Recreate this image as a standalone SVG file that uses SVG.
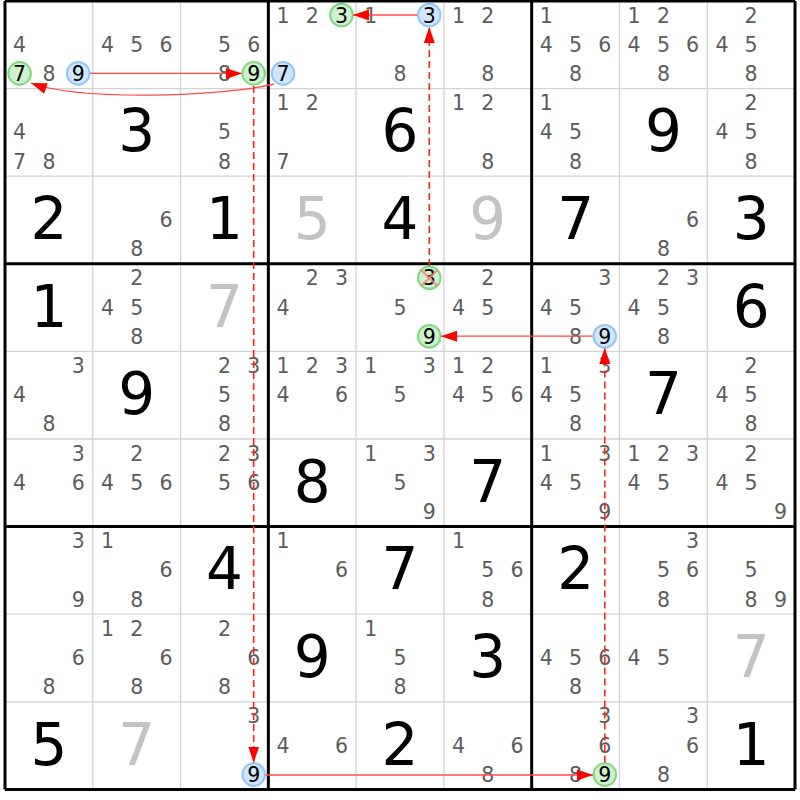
<svg xmlns="http://www.w3.org/2000/svg" width="800" height="800" viewBox="0 0 800 800">
<style>
text{font-family:"DejaVu Sans","Liberation Sans",sans-serif;text-anchor:middle}
.c{font-size:20.5px;fill:#5c5c5c}
.k{font-size:20.5px;fill:#000}
.b{font-size:58px;fill:#000}
.s{font-size:58px;fill:#c3c3c3}
.thin{stroke:#d3d3d3;stroke-width:1.3;fill:none}
.thick{stroke:#000;stroke-width:3;fill:none}
.g{fill:#cdf2cd;stroke:#80d880;stroke-width:2}
.u{fill:#d0e6ff;stroke:#94c6f5;stroke-width:2}
.sol{stroke:#ff4a4a;stroke-width:1.3;fill:none}
.dash{stroke:#ff2424;stroke-width:1.6;fill:none;stroke-dasharray:7 4}
.x{stroke:#ff7a7a;stroke-width:2;opacity:0.85}
</style>
<defs>
<marker id="ah" viewBox="0 0 16 12" refX="16" refY="6" markerWidth="16" markerHeight="12" markerUnits="userSpaceOnUse" orient="auto">
<path d="M0,0.5 L16,6 L0,11.5 z" fill="#ff0000"/>
</marker>
</defs>
<rect width="800" height="800" fill="#fff"/>
<g id="grid">
<path class="thin" d="M92.78 1V789.4M180.56 1V789.4M356.12 1V789.4M443.9 1V789.4M619.46 1V789.4M707.24 1V789.4M5 88.6H795M5 176.2H795M5 351.4H795M5 439H795M5 614.2H795M5 701.8H795"/>
<path class="thick" d="M5 1V789.4M268.34 1V789.4M531.68 1V789.4M795 1V789.4M5 1H795M5 263.8H795M5 526.6H795M5 789.4H795"/>
</g>
<g id="cells">
<g id="r0c0"><circle class="g" cx="19.6" cy="73.4" r="11.3"/><circle class="u" cx="78.2" cy="73.4" r="11.3"/><text class="c" x="19.6" y="51.8">4</text><text class="k" x="19.6" y="81">7</text><text class="c" x="48.9" y="81">8</text><text class="k" x="78.2" y="81">9</text></g>
<g id="r0c1"><text class="c" x="107.4" y="51.8">4</text><text class="c" x="136.7" y="51.8">5</text><text class="c" x="165.9" y="51.8">6</text></g>
<g id="r0c2"><circle class="g" cx="253.7" cy="73.4" r="11.3"/><text class="c" x="224.5" y="51.8">5</text><text class="c" x="253.7" y="51.8">6</text><text class="c" x="224.5" y="81">8</text><text class="k" x="253.7" y="81">9</text></g>
<g id="r0c3"><circle class="g" cx="341.5" cy="15" r="11.3"/><circle class="u" cx="283" cy="73.4" r="11.3"/><text class="c" x="283" y="22.6">1</text><text class="c" x="312.2" y="22.6">2</text><text class="k" x="341.5" y="22.6">3</text><text class="k" x="283" y="81">7</text></g>
<g id="r0c4"><circle class="u" cx="429.3" cy="15" r="11.3"/><text class="c" x="370.8" y="22.6">1</text><text class="k" x="429.3" y="22.6">3</text><text class="c" x="400" y="81">8</text></g>
<g id="r0c5"><text class="c" x="458.5" y="22.6">1</text><text class="c" x="487.8" y="22.6">2</text><text class="c" x="487.8" y="81">8</text></g>
<g id="r0c6"><text class="c" x="546.3" y="22.6">1</text><text class="c" x="546.3" y="51.8">4</text><text class="c" x="575.6" y="51.8">5</text><text class="c" x="604.8" y="51.8">6</text><text class="c" x="575.6" y="81">8</text></g>
<g id="r0c7"><text class="c" x="634.1" y="22.6">1</text><text class="c" x="663.4" y="22.6">2</text><text class="c" x="634.1" y="51.8">4</text><text class="c" x="663.4" y="51.8">5</text><text class="c" x="692.6" y="51.8">6</text><text class="c" x="663.4" y="81">8</text></g>
<g id="r0c8"><text class="c" x="751.1" y="22.6">2</text><text class="c" x="721.9" y="51.8">4</text><text class="c" x="751.1" y="51.8">5</text><text class="c" x="751.1" y="81">8</text></g>

<g id="r1c0"><text class="c" x="19.6" y="139.4">4</text><text class="c" x="19.6" y="168.6">7</text><text class="c" x="48.9" y="168.6">8</text></g>
<g id="r1c1"><text class="b" x="136.7" y="151.4">3</text></g>
<g id="r1c2"><text class="c" x="224.5" y="139.4">5</text><text class="c" x="224.5" y="168.6">8</text></g>
<g id="r1c3"><text class="c" x="283" y="110.2">1</text><text class="c" x="312.2" y="110.2">2</text><text class="c" x="283" y="168.6">7</text></g>
<g id="r1c4"><text class="b" x="400" y="151.4">6</text></g>
<g id="r1c5"><text class="c" x="458.5" y="110.2">1</text><text class="c" x="487.8" y="110.2">2</text><text class="c" x="487.8" y="168.6">8</text></g>
<g id="r1c6"><text class="c" x="546.3" y="110.2">1</text><text class="c" x="546.3" y="139.4">4</text><text class="c" x="575.6" y="139.4">5</text><text class="c" x="575.6" y="168.6">8</text></g>
<g id="r1c7"><text class="b" x="663.4" y="151.4">9</text></g>
<g id="r1c8"><text class="c" x="751.1" y="110.2">2</text><text class="c" x="721.9" y="139.4">4</text><text class="c" x="751.1" y="139.4">5</text><text class="c" x="751.1" y="168.6">8</text></g>

<g id="r2c0"><text class="b" x="48.9" y="239">2</text></g>
<g id="r2c1"><text class="c" x="165.9" y="227">6</text><text class="c" x="136.7" y="256.2">8</text></g>
<g id="r2c2"><text class="b" x="224.5" y="239">1</text></g>
<g id="r2c3"><text class="s" x="312.2" y="239">5</text></g>
<g id="r2c4"><text class="b" x="400" y="239">4</text></g>
<g id="r2c5"><text class="s" x="487.8" y="239">9</text></g>
<g id="r2c6"><text class="b" x="575.6" y="239">7</text></g>
<g id="r2c7"><text class="c" x="692.6" y="227">6</text><text class="c" x="663.4" y="256.2">8</text></g>
<g id="r2c8"><text class="b" x="751.1" y="239">3</text></g>

<g id="r3c0"><text class="b" x="48.9" y="326.6">1</text></g>
<g id="r3c1"><text class="c" x="136.7" y="285.4">2</text><text class="c" x="107.4" y="314.6">4</text><text class="c" x="136.7" y="314.6">5</text><text class="c" x="136.7" y="343.8">8</text></g>
<g id="r3c2"><text class="s" x="224.5" y="326.6">7</text></g>
<g id="r3c3"><text class="c" x="312.2" y="285.4">2</text><text class="c" x="341.5" y="285.4">3</text><text class="c" x="283" y="314.6">4</text></g>
<g id="r3c4"><circle class="g" cx="429.3" cy="277.8" r="11.3"/><circle class="g" cx="429.3" cy="336.2" r="11.3"/><text class="k" x="429.3" y="285.4">3</text><text class="c" x="400" y="314.6">5</text><text class="k" x="429.3" y="343.8">9</text><path class="x" d="M421 270L437.5 286M437.5 270L421 286"/></g>
<g id="r3c5"><text class="c" x="487.8" y="285.4">2</text><text class="c" x="458.5" y="314.6">4</text><text class="c" x="487.8" y="314.6">5</text></g>
<g id="r3c6"><circle class="u" cx="604.8" cy="336.2" r="11.3"/><text class="c" x="604.8" y="285.4">3</text><text class="c" x="546.3" y="314.6">4</text><text class="c" x="575.6" y="314.6">5</text><text class="c" x="575.6" y="343.8">8</text><text class="k" x="604.8" y="343.8">9</text></g>
<g id="r3c7"><text class="c" x="663.4" y="285.4">2</text><text class="c" x="692.6" y="285.4">3</text><text class="c" x="634.1" y="314.6">4</text><text class="c" x="663.4" y="314.6">5</text><text class="c" x="663.4" y="343.8">8</text></g>
<g id="r3c8"><text class="b" x="751.1" y="326.6">6</text></g>

<g id="r4c0"><text class="c" x="78.2" y="373">3</text><text class="c" x="19.6" y="402.2">4</text><text class="c" x="48.9" y="431.4">8</text></g>
<g id="r4c1"><text class="b" x="136.7" y="414.2">9</text></g>
<g id="r4c2"><text class="c" x="224.5" y="373">2</text><text class="c" x="253.7" y="373">3</text><text class="c" x="224.5" y="402.2">5</text><text class="c" x="224.5" y="431.4">8</text></g>
<g id="r4c3"><text class="c" x="283" y="373">1</text><text class="c" x="312.2" y="373">2</text><text class="c" x="341.5" y="373">3</text><text class="c" x="283" y="402.2">4</text><text class="c" x="341.5" y="402.2">6</text></g>
<g id="r4c4"><text class="c" x="370.8" y="373">1</text><text class="c" x="429.3" y="373">3</text><text class="c" x="400" y="402.2">5</text></g>
<g id="r4c5"><text class="c" x="458.5" y="373">1</text><text class="c" x="487.8" y="373">2</text><text class="c" x="458.5" y="402.2">4</text><text class="c" x="487.8" y="402.2">5</text><text class="c" x="517.1" y="402.2">6</text></g>
<g id="r4c6"><text class="c" x="546.3" y="373">1</text><text class="c" x="604.8" y="373">3</text><text class="c" x="546.3" y="402.2">4</text><text class="c" x="575.6" y="402.2">5</text><text class="c" x="575.6" y="431.4">8</text></g>
<g id="r4c7"><text class="b" x="663.4" y="414.2">7</text></g>
<g id="r4c8"><text class="c" x="751.1" y="373">2</text><text class="c" x="721.9" y="402.2">4</text><text class="c" x="751.1" y="402.2">5</text><text class="c" x="751.1" y="431.4">8</text></g>

<g id="r5c0"><text class="c" x="78.2" y="460.6">3</text><text class="c" x="19.6" y="489.8">4</text><text class="c" x="78.2" y="489.8">6</text></g>
<g id="r5c1"><text class="c" x="136.7" y="460.6">2</text><text class="c" x="107.4" y="489.8">4</text><text class="c" x="136.7" y="489.8">5</text><text class="c" x="165.9" y="489.8">6</text></g>
<g id="r5c2"><text class="c" x="224.5" y="460.6">2</text><text class="c" x="253.7" y="460.6">3</text><text class="c" x="224.5" y="489.8">5</text><text class="c" x="253.7" y="489.8">6</text></g>
<g id="r5c3"><text class="b" x="312.2" y="501.8">8</text></g>
<g id="r5c4"><text class="c" x="370.8" y="460.6">1</text><text class="c" x="429.3" y="460.6">3</text><text class="c" x="400" y="489.8">5</text><text class="c" x="429.3" y="519">9</text></g>
<g id="r5c5"><text class="b" x="487.8" y="501.8">7</text></g>
<g id="r5c6"><text class="c" x="546.3" y="460.6">1</text><text class="c" x="604.8" y="460.6">3</text><text class="c" x="546.3" y="489.8">4</text><text class="c" x="575.6" y="489.8">5</text><text class="c" x="604.8" y="519">9</text></g>
<g id="r5c7"><text class="c" x="634.1" y="460.6">1</text><text class="c" x="663.4" y="460.6">2</text><text class="c" x="692.6" y="460.6">3</text><text class="c" x="634.1" y="489.8">4</text><text class="c" x="663.4" y="489.8">5</text></g>
<g id="r5c8"><text class="c" x="751.1" y="460.6">2</text><text class="c" x="721.9" y="489.8">4</text><text class="c" x="751.1" y="489.8">5</text><text class="c" x="780.4" y="519">9</text></g>

<g id="r6c0"><text class="c" x="78.2" y="548.2">3</text><text class="c" x="78.2" y="606.6">9</text></g>
<g id="r6c1"><text class="c" x="107.4" y="548.2">1</text><text class="c" x="165.9" y="577.4">6</text><text class="c" x="136.7" y="606.6">8</text></g>
<g id="r6c2"><text class="b" x="224.5" y="589.4">4</text></g>
<g id="r6c3"><text class="c" x="283" y="548.2">1</text><text class="c" x="341.5" y="577.4">6</text></g>
<g id="r6c4"><text class="b" x="400" y="589.4">7</text></g>
<g id="r6c5"><text class="c" x="458.5" y="548.2">1</text><text class="c" x="487.8" y="577.4">5</text><text class="c" x="517.1" y="577.4">6</text><text class="c" x="487.8" y="606.6">8</text></g>
<g id="r6c6"><text class="b" x="575.6" y="589.4">2</text></g>
<g id="r6c7"><text class="c" x="692.6" y="548.2">3</text><text class="c" x="663.4" y="577.4">5</text><text class="c" x="692.6" y="577.4">6</text><text class="c" x="663.4" y="606.6">8</text></g>
<g id="r6c8"><text class="c" x="751.1" y="577.4">5</text><text class="c" x="751.1" y="606.6">8</text><text class="c" x="780.4" y="606.6">9</text></g>

<g id="r7c0"><text class="c" x="78.2" y="665">6</text><text class="c" x="48.9" y="694.2">8</text></g>
<g id="r7c1"><text class="c" x="107.4" y="635.8">1</text><text class="c" x="136.7" y="635.8">2</text><text class="c" x="165.9" y="665">6</text><text class="c" x="136.7" y="694.2">8</text></g>
<g id="r7c2"><text class="c" x="224.5" y="635.8">2</text><text class="c" x="253.7" y="665">6</text><text class="c" x="224.5" y="694.2">8</text></g>
<g id="r7c3"><text class="b" x="312.2" y="677">9</text></g>
<g id="r7c4"><text class="c" x="370.8" y="635.8">1</text><text class="c" x="400" y="665">5</text><text class="c" x="400" y="694.2">8</text></g>
<g id="r7c5"><text class="b" x="487.8" y="677">3</text></g>
<g id="r7c6"><text class="c" x="546.3" y="665">4</text><text class="c" x="575.6" y="665">5</text><text class="c" x="604.8" y="665">6</text><text class="c" x="575.6" y="694.2">8</text></g>
<g id="r7c7"><text class="c" x="634.1" y="665">4</text><text class="c" x="663.4" y="665">5</text></g>
<g id="r7c8"><text class="s" x="751.1" y="677">7</text></g>

<g id="r8c0"><text class="b" x="48.9" y="764.6">5</text></g>
<g id="r8c1"><text class="s" x="136.7" y="764.6">7</text></g>
<g id="r8c2"><circle class="u" cx="253.7" cy="774.6" r="11.3"/><text class="c" x="253.7" y="723.4">3</text><text class="k" x="253.7" y="782.2">9</text></g>
<g id="r8c3"><text class="c" x="283" y="752.6">4</text><text class="c" x="341.5" y="752.6">6</text></g>
<g id="r8c4"><text class="b" x="400" y="764.6">2</text></g>
<g id="r8c5"><text class="c" x="458.5" y="752.6">4</text><text class="c" x="517.1" y="752.6">6</text><text class="c" x="487.8" y="781.8">8</text></g>
<g id="r8c6"><circle class="g" cx="604.8" cy="774.6" r="11.3"/><text class="c" x="604.8" y="723.4">3</text><text class="c" x="604.8" y="752.6">6</text><text class="c" x="575.6" y="781.8">8</text><text class="k" x="604.8" y="782.2">9</text></g>
<g id="r8c7"><text class="c" x="692.6" y="723.4">3</text><text class="c" x="692.6" y="752.6">6</text><text class="c" x="663.4" y="781.8">8</text></g>
<g id="r8c8"><text class="b" x="751.1" y="764.6">1</text></g>
</g>
<g id="connectors">
<path class="sol" d="M90 73.4H242" marker-end="url(#ah)"/>
<path class="sol" d="M274 84C220 97 80 101 31 83" marker-end="url(#ah)"/>
<path class="sol" d="M417.5 15H353" marker-end="url(#ah)"/>
<path class="dash" d="M429.3 266V27" marker-end="url(#ah)"/>
<path class="dash" d="M253.7 86V762.5" marker-end="url(#ah)"/>
<path class="sol" d="M265.5 775H593" marker-end="url(#ah)"/>
<path class="dash" d="M604.8 762.5V348" marker-end="url(#ah)"/>
<path class="sol" d="M592.5 336.2H441" marker-end="url(#ah)"/>
</g>
</svg>
